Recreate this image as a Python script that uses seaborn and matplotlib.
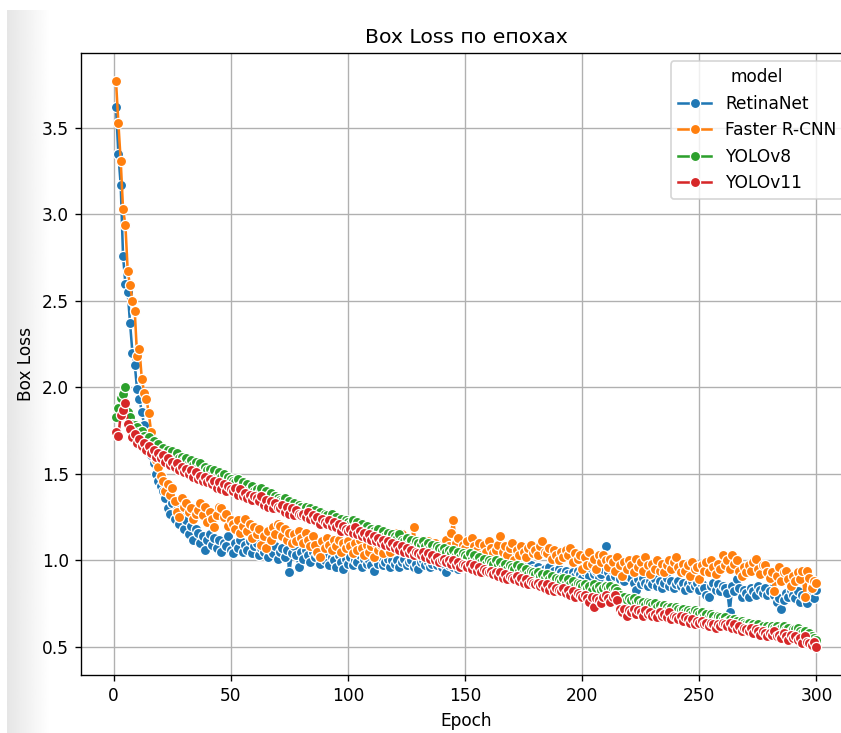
import numpy as np
import pandas as pd
import matplotlib
matplotlib.use("Agg")
import matplotlib.pyplot as plt
import seaborn as sns

models = ["RetinaNet", "Faster R-CNN", "YOLOv8", "YOLOv11"]
epochs = list(range(1, 301))

retinanet = [
    3.62, 3.35, 3.17, 2.76, 2.60, 2.55, 2.37, 2.20, 2.13, 1.99,
    1.93, 1.86, 1.78, 1.72, 1.67, 1.61, 1.56, 1.50, 1.46, 1.43,
    1.40, 1.36, 1.30, 1.27, 1.33, 1.24, 1.29, 1.21, 1.26, 1.18,
    1.23, 1.15, 1.20, 1.12, 1.18, 1.16, 1.10, 1.14, 1.06, 1.12,
    1.15, 1.09, 1.13, 1.07, 1.12, 1.05, 1.10, 1.08, 1.14, 1.06,
    1.04, 1.10, 1.07, 1.12, 1.05, 1.09, 1.06, 1.11, 1.04, 1.08,
    1.10, 1.03, 1.07, 1.05, 1.09, 1.02, 1.06, 1.04, 1.08, 1.01,
    1.05, 1.07, 1.02, 1.06, 0.93, 1.04, 1.08, 1.03, 0.96, 1.05,
    1.01, 1.06, 1.03, 0.99, 1.05, 1.02, 1.04, 0.98, 1.03, 1.00,
    1.04, 0.97, 1.02, 1.00, 0.96, 1.03, 0.99, 0.95, 1.01, 0.98,
    1.02, 0.97, 1.00, 0.99, 1.03, 0.96, 1.01, 0.98, 1.00, 0.97,
    0.94, 1.00, 0.98, 1.02, 0.97, 0.99, 1.01, 0.96, 1.00, 0.98,
    1.00, 0.96, 0.99, 1.01, 0.97, 0.99, 1.00, 0.96, 0.98, 0.95,
    0.99, 1.00, 0.97, 0.99, 0.96, 0.98, 1.00, 0.97, 0.99, 0.96,
    0.98, 0.93, 0.97, 0.99, 0.96, 0.98, 0.95, 0.97, 0.99, 0.96,
    0.98, 0.96, 1.00, 0.97, 0.99, 1.09, 0.97, 1.00, 0.96, 0.98,
    0.97, 0.99, 0.95, 0.98, 0.96, 0.99, 0.94, 0.97, 0.95, 0.98,
    0.96, 0.94, 0.97, 0.95, 0.93, 0.96, 0.94, 0.97, 0.95, 0.93,
    0.96, 0.94, 0.92, 0.95, 0.93, 0.96, 0.92, 0.94, 0.91, 0.95,
    0.93, 0.91, 0.94, 0.92, 0.90, 0.93, 0.91, 0.94, 0.92, 0.90,
    0.93, 0.96, 0.91, 0.95, 0.92, 0.94, 0.90, 0.92, 0.95, 1.08,
    0.93, 0.90, 0.94, 0.91, 0.93, 0.89, 0.92, 0.88, 0.91, 0.99,
    0.90, 0.87, 0.83, 0.89, 0.86, 0.90, 0.87, 0.85, 0.88, 0.86,
    0.89, 0.85, 0.88, 0.84, 0.87, 0.90, 0.85, 0.88, 0.84, 0.86,
    0.88, 0.85, 0.87, 0.83, 0.86, 0.84, 0.88, 0.85, 0.87, 0.83,
    0.86, 0.84, 0.80, 0.79, 0.85, 0.87, 0.83, 0.86, 0.82, 0.85,
    0.84, 0.81, 0.70, 0.85, 0.82, 0.89, 0.84, 0.79, 0.83, 0.81,
    0.79, 0.84, 0.82, 0.80, 0.85, 0.83, 0.81, 0.84, 0.80, 0.82,
    0.89, 0.80, 0.76, 0.78, 0.72, 0.77, 0.81, 0.79, 0.83, 0.80,
    0.78, 0.82, 0.76, 0.80, 0.78, 0.75, 0.80, 0.82, 0.78, 0.83,
]

faster_rcnn = [
    3.77, 3.53, 3.31, 3.03, 2.94, 2.67, 2.59, 2.50, 2.44, 2.18,
    2.22, 2.05, 1.97, 1.93, 1.85, 1.74, 1.65, 1.58, 1.54, 1.49,
    1.46, 1.40, 1.44, 1.38, 1.42, 1.34, 1.28, 1.25, 1.36, 1.31,
    1.33, 1.28, 1.30, 1.24, 1.27, 1.29, 1.33, 1.26, 1.31, 1.22,
    1.28, 1.24, 1.19, 1.26, 1.31, 1.30, 1.25, 1.27, 1.20, 1.23,
    1.21, 1.18, 1.23, 1.16, 1.20, 1.24, 1.17, 1.21, 1.13, 1.19,
    1.15, 1.18, 1.09, 1.14, 1.07, 1.17, 1.12, 1.19, 1.15, 1.21,
    1.20, 1.14, 1.18, 1.12, 1.16, 1.10, 1.15, 1.11, 1.17, 1.13,
    1.10, 1.16, 1.12, 1.08, 1.14, 1.09, 1.05, 1.02, 1.11, 1.07,
    1.13, 1.09, 1.06, 1.12, 1.08, 1.12, 1.05, 1.10, 1.07, 1.11,
    1.08, 1.04, 1.10, 1.06, 1.12, 1.07, 1.03, 1.09, 1.05, 1.08,
    1.02, 1.10, 1.06, 1.09, 1.04, 1.11, 1.07, 1.05, 1.10, 1.08,
    1.16, 1.06, 1.15, 1.09, 1.05, 1.11, 1.08, 1.19, 1.07, 1.10,
    1.04, 1.09, 1.06, 1.11, 1.08, 1.05, 1.10, 1.07, 1.03, 1.09,
    1.06, 1.12, 1.08, 1.16, 1.23, 1.10, 1.13, 1.05, 1.09, 1.07,
    1.11, 1.04, 1.13, 1.08, 1.06, 1.10, 1.03, 1.09, 1.05, 1.11,
    1.07, 1.04, 1.06, 1.09, 1.14, 1.05, 1.08, 1.03, 1.07, 1.10,
    1.00, 1.06, 1.03, 1.08, 1.05, 1.02, 1.07, 1.09, 1.04, 1.06,
    1.03, 1.08, 1.11, 1.05, 1.04, 1.07, 1.01, 1.06, 1.03, 1.00,
    1.05, 1.02, 1.06, 1.03, 1.07, 0.99, 1.04, 1.01, 1.03, 0.95,
    1.02, 0.97, 1.05, 0.98, 1.01, 0.95, 1.03, 0.99, 1.03, 1.00,
    0.96, 1.01, 0.99, 0.94, 1.02, 0.97, 0.91, 0.99, 0.95, 1.00,
    0.97, 0.93, 1.01, 0.96, 0.99, 0.94, 1.02, 0.97, 0.92, 0.98,
    0.95, 1.00, 0.94, 0.98, 0.93, 0.97, 1.00, 0.95, 0.99, 1.02,
    0.96, 0.93, 0.98, 0.94, 0.97, 0.91, 0.99, 0.95, 0.96, 0.89,
    0.97, 0.94, 0.99, 0.93, 1.00, 0.96, 0.92, 0.98, 0.95, 1.03,
    0.97, 1.00, 0.95, 1.03, 0.98, 1.00, 0.94, 0.91, 0.96, 0.93,
    0.97, 0.94, 0.99, 1.01, 0.95, 0.92, 0.97, 0.97, 0.93, 0.90,
    0.93, 0.82, 0.91, 0.96, 0.88, 0.93, 0.94, 0.89, 0.85, 0.91,
    0.88, 0.93, 0.89, 0.94, 0.79, 0.94, 0.90, 0.84, 0.88, 0.87,
]

yolov8 = [
    1.83, 1.88, 1.94, 1.96, 2.00, 1.86, 1.83, 1.79, 1.78, 1.77,
    1.74, 1.75, 1.72, 1.70, 1.71, 1.68, 1.69, 1.66, 1.67, 1.64,
    1.65, 1.62, 1.64, 1.61, 1.63, 1.60, 1.62, 1.59, 1.60, 1.58,
    1.59, 1.56, 1.58, 1.55, 1.57, 1.54, 1.56, 1.53, 1.54, 1.52,
    1.53, 1.50, 1.52, 1.49, 1.51, 1.48, 1.50, 1.46, 1.48, 1.47,
    1.46, 1.45, 1.47, 1.43, 1.45, 1.42, 1.44, 1.41, 1.43, 1.40,
    1.41, 1.39, 1.42, 1.38, 1.40, 1.37, 1.39, 1.35, 1.37, 1.36,
    1.35, 1.34, 1.36, 1.32, 1.34, 1.31, 1.33, 1.30, 1.32, 1.31,
    1.29, 1.31, 1.28, 1.30, 1.27, 1.29, 1.26, 1.28, 1.25, 1.27,
    1.26, 1.24, 1.27, 1.23, 1.25, 1.22, 1.24, 1.21, 1.23, 1.22,
    1.21, 1.23, 1.20, 1.22, 1.19, 1.21, 1.18, 1.20, 1.17, 1.18,
    1.17, 1.16, 1.18, 1.15, 1.17, 1.14, 1.16, 1.13, 1.15, 1.14,
    1.13, 1.15, 1.12, 1.11, 1.13, 1.10, 1.12, 1.09, 1.11, 1.10,
    1.09, 1.11, 1.08, 1.10, 1.07, 1.09, 1.06, 1.08, 1.07, 1.06,
    1.07, 1.05, 1.06, 1.04, 1.06, 1.03, 1.05, 1.02, 1.04, 1.03,
    1.02, 1.04, 1.01, 1.03, 1.00, 1.02, 0.99, 1.01, 0.98, 1.00,
    0.99, 0.98, 1.00, 0.97, 0.99, 0.96, 0.98, 0.95, 0.97, 0.96,
    0.95, 0.97, 0.94, 0.96, 0.93, 0.95, 0.92, 0.94, 0.93, 0.92,
    0.93, 0.91, 0.92, 0.90, 0.92, 0.89, 0.91, 0.88, 0.90, 0.89,
    0.88, 0.90, 0.87, 0.89, 0.86, 0.88, 0.85, 0.87, 0.86, 0.85,
    0.86, 0.84, 0.85, 0.83, 0.86, 0.84, 0.85, 0.83, 0.84, 0.85,
    0.84, 0.85, 0.83, 0.84, 0.82, 0.80, 0.78, 0.79, 0.77, 0.78,
    0.77, 0.78, 0.76, 0.77, 0.75, 0.76, 0.74, 0.76, 0.75, 0.74,
    0.75, 0.73, 0.74, 0.72, 0.74, 0.73, 0.72, 0.73, 0.71, 0.73,
    0.72, 0.71, 0.72, 0.70, 0.71, 0.70, 0.69, 0.71, 0.70, 0.69,
    0.70, 0.68, 0.69, 0.67, 0.69, 0.68, 0.66, 0.68, 0.67, 0.66,
    0.67, 0.65, 0.66, 0.64, 0.66, 0.65, 0.63, 0.65, 0.64, 0.63,
    0.64, 0.62, 0.63, 0.62, 0.63, 0.61, 0.62, 0.60, 0.62, 0.61,
    0.62, 0.61, 0.62, 0.60, 0.61, 0.62, 0.60, 0.61, 0.59, 0.60,
    0.60, 0.61, 0.59, 0.58, 0.59, 0.57, 0.58, 0.56, 0.55, 0.54,
]

yolov11 = [
    1.74, 1.72, 1.84, 1.87, 1.91, 1.79, 1.76, 1.71, 1.73, 1.68,
    1.70, 1.66, 1.68, 1.64, 1.66, 1.62, 1.64, 1.60, 1.62, 1.59,
    1.61, 1.57, 1.59, 1.55, 1.57, 1.54, 1.56, 1.52, 1.54, 1.51,
    1.53, 1.50, 1.52, 1.48, 1.51, 1.47, 1.49, 1.46, 1.48, 1.45,
    1.47, 1.44, 1.46, 1.42, 1.45, 1.41, 1.44, 1.40, 1.43, 1.41,
    1.40, 1.42, 1.38, 1.41, 1.37, 1.39, 1.36, 1.38, 1.35, 1.37,
    1.36, 1.34, 1.37, 1.32, 1.35, 1.31, 1.34, 1.30, 1.33, 1.31,
    1.30, 1.32, 1.28, 1.31, 1.27, 1.30, 1.26, 1.29, 1.27, 1.26,
    1.27, 1.25, 1.28, 1.24, 1.26, 1.23, 1.25, 1.21, 1.24, 1.22,
    1.21, 1.23, 1.20, 1.22, 1.19, 1.21, 1.17, 1.20, 1.18, 1.17,
    1.18, 1.16, 1.19, 1.15, 1.17, 1.14, 1.16, 1.13, 1.15, 1.12,
    1.14, 1.11, 1.13, 1.10, 1.12, 1.09, 1.11, 1.08, 1.10, 1.07,
    1.09, 1.06, 1.08, 1.05, 1.07, 1.04, 1.06, 1.03, 1.05, 1.04,
    1.03, 1.05, 1.02, 1.04, 1.01, 1.03, 1.00, 1.02, 0.99, 1.00,
    1.01, 0.99, 1.00, 0.98, 1.00, 0.97, 0.99, 0.96, 0.98, 0.97,
    0.96, 0.98, 0.95, 0.97, 0.94, 0.96, 0.93, 0.95, 0.94, 0.93,
    0.94, 0.92, 0.93, 0.91, 0.93, 0.90, 0.92, 0.89, 0.91, 0.90,
    0.89, 0.91, 0.88, 0.90, 0.87, 0.89, 0.86, 0.88, 0.87, 0.86,
    0.87, 0.85, 0.86, 0.84, 0.86, 0.83, 0.85, 0.82, 0.84, 0.83,
    0.82, 0.84, 0.81, 0.83, 0.80, 0.82, 0.79, 0.81, 0.80, 0.79,
    0.80, 0.78, 0.76, 0.79, 0.73, 0.78, 0.77, 0.75, 0.79, 0.80,
    0.78, 0.76, 0.79, 0.80, 0.77, 0.72, 0.70, 0.72, 0.68, 0.71,
    0.70, 0.72, 0.69, 0.71, 0.70, 0.68, 0.71, 0.69, 0.70, 0.68,
    0.69, 0.67, 0.70, 0.68, 0.69, 0.67, 0.70, 0.66, 0.68, 0.67,
    0.66, 0.68, 0.65, 0.67, 0.66, 0.64, 0.66, 0.63, 0.65, 0.64,
    0.65, 0.63, 0.64, 0.62, 0.64, 0.63, 0.61, 0.63, 0.62, 0.64,
    0.63, 0.62, 0.64, 0.61, 0.63, 0.60, 0.62, 0.59, 0.61, 0.60,
    0.59, 0.61, 0.58, 0.60, 0.59, 0.57, 0.59, 0.58, 0.56, 0.58,
    0.57, 0.59, 0.56, 0.57, 0.55, 0.58, 0.56, 0.54, 0.57, 0.55,
    0.56, 0.54, 0.55, 0.52, 0.56, 0.53, 0.52, 0.51, 0.53, 0.50,
]

series = [retinanet, faster_rcnn, yolov8, yolov11]
df = pd.concat(
    [pd.DataFrame({"epoch": epochs, "box_loss": vals, "model": name})
     for name, vals in zip(models, series)],
    ignore_index=True,
)

DPI = 122
plt.rcParams["axes.grid"] = True
fig = plt.figure(figsize=(841 / DPI, 733 / DPI), dpi=DPI)

# screenshot shadow strip on the left
bg = fig.add_axes([0.008, 0.0, 0.05, 0.986], zorder=-10)
grad = np.linspace(0.9, 1.0, 64)[None, :]
bg.imshow(grad, cmap="gray", vmin=0, vmax=1, aspect="auto", extent=[0, 1, 0, 1])
bg.axis("off")

ax = fig.add_axes([81 / 841, 58 / 733, 770.5 / 841, 622 / 733])
sns.lineplot(data=df, x="epoch", y="box_loss", hue="model", hue_order=models,
             marker="o", ax=ax)
ax.set_title("Box Loss по епохах", fontsize=12)
ax.set_xlabel("Epoch")
ax.set_ylabel("Box Loss")
ax.set_xlim(-13.95, 314.95)
ax.set_xticks([0, 50, 100, 150, 200, 250, 300])
ax.set_yticks([0.5, 1.0, 1.5, 2.0, 2.5, 3.0, 3.5])
ax.legend(title="model", loc="upper right")
ax.spines["right"].set_visible(False)
ax.set_axisbelow(True)

fig.savefig("out.png", dpi=DPI)
